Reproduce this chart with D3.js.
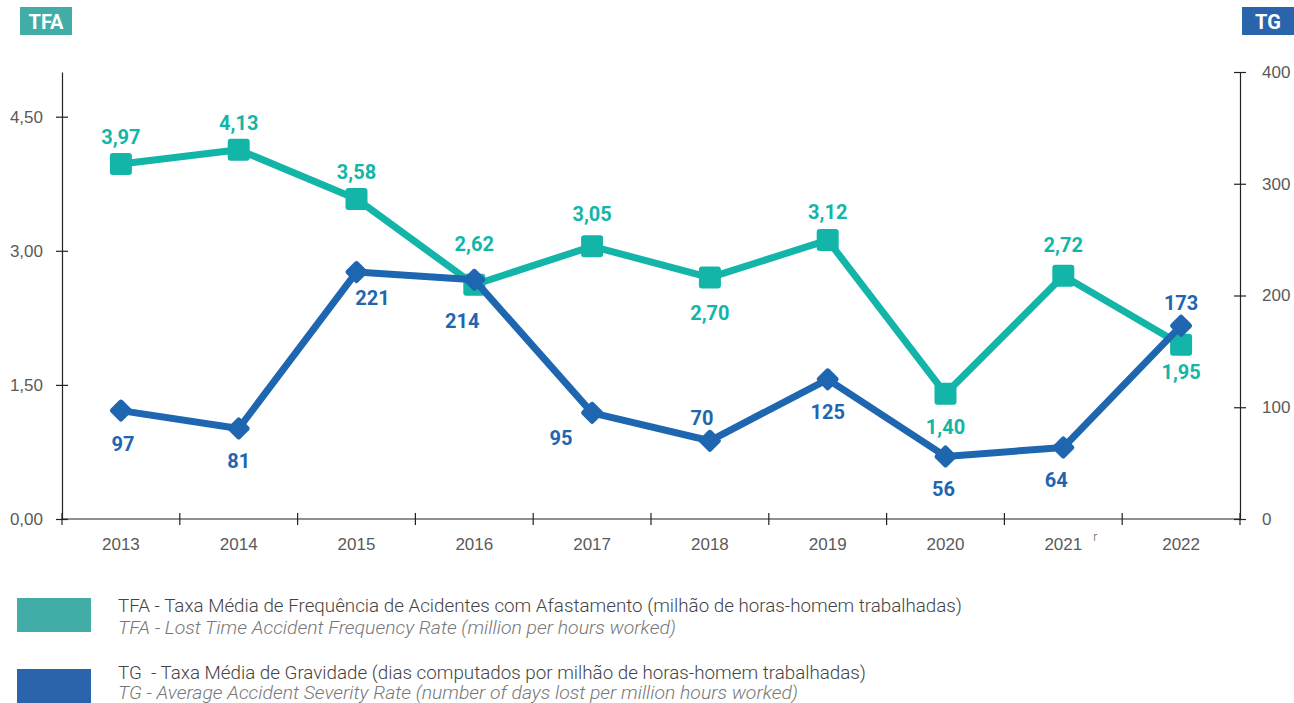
<!DOCTYPE html>
<html>
<head>
<meta charset="utf-8">
<script src="https://cdn.jsdelivr.net/npm/d3@7"></script>
<style>
  body { margin: 0; background: #fff; }
  svg { display: block; font-family: Roboto, "Noto Sans", sans-serif; }
</style>
</head>
<body>
<svg id="chart" width="1294" height="703"></svg>
<script>
// Accident indicators 2013–2022
const years = ["2013", "2014", "2015", "2016", "2017", "2018", "2019", "2020", "2021", "2022"];
const tfaValues = [3.97, 4.13, 3.58, 2.62, 3.05, 2.70, 3.12, 1.40, 2.72, 1.95];
const tgValues = [97, 81, 221, 214, 95, 70, 125, 56, 64, 173];
const leftTicks = [0, 1.5, 3.0, 4.5];
const rightTicks = [0, 100, 200, 300, 400];
// label placement: "a" above, "b" below
const tfaLabelPos = ["a", "a", "a", "a", "a", "b", "a", "b", "a", "b"];
const tgLabelPos = ["b", "b", "b", "b", "b", "a", "b", "b", "b", "a"];

const tfaColor = "#13b5a8";
const tgColor = "#1f66b1";
const tickText = "#5a5a5a";
const fmt = v => d3.format(".2f")(v).replace(".", ",");

const svg = d3.select("#chart");
const plotLeft = 62, plotRight = 1240, plotTop = 72, plotBottom = 519;

const x = d3.scaleBand().domain(years).range([plotLeft, plotRight]);
const yL = d3.scaleLinear().domain([0, 5]).range([plotBottom, plotTop]);
const yR = d3.scaleLinear().domain([0, 400]).range([plotBottom, plotTop]);
const cx = d => x(d) + x.bandwidth() / 2;

// Axes
const axisStyle = g => {
  g.selectAll("path").attr("stroke", "#222").attr("stroke-width", 1.2);
  g.selectAll("line").attr("stroke", "#222").attr("stroke-width", 1.2);
  g.selectAll("text").attr("fill", tickText).attr("font-size", 17).attr("font-weight", 300);
};

const xAxis = svg.append("g").attr("transform", `translate(0,${plotBottom})`)
  .call(d3.axisBottom(x).tickSize(0).tickPadding(19));
axisStyle(xAxis);
xAxis.select(".domain").attr("d", `M${plotLeft},0H${plotRight}`);
// boundary tick marks between years
xAxis.selectAll(".bnd").data(d3.range(years.length + 1)).join("line")
  .attr("class", "bnd")
  .attr("x1", i => plotLeft + i * x.bandwidth()).attr("x2", i => plotLeft + i * x.bandwidth())
  .attr("y1", -6).attr("y2", 6)
  .attr("stroke", "#222").attr("stroke-width", 1.2);

const yAxisL = svg.append("g").attr("transform", `translate(${plotLeft},0)`)
  .call(d3.axisLeft(yL).tickValues(leftTicks).tickFormat(fmt).tickSizeInner(6).tickSizeOuter(0).tickPadding(13));
axisStyle(yAxisL);
yAxisL.selectAll(".tick line").attr("x1", 6).attr("x2", -6);

const yAxisR = svg.append("g").attr("transform", `translate(${plotRight},0)`)
  .call(d3.axisRight(yR).tickValues(rightTicks).tickFormat(d3.format("d")).tickSizeInner(6).tickSizeOuter(0).tickPadding(16));
axisStyle(yAxisR);
yAxisR.selectAll(".tick line").attr("x1", -6).attr("x2", 6);

// superscript next to 2021
svg.append("text").attr("x", cx("2021") + 30).attr("y", 541)
  .attr("font-size", 12).attr("fill", tickText).attr("font-weight", 300).text("r");

// Lines
const tfaLine = d3.line().x((d, i) => cx(years[i])).y(d => yL(d));
const tgLine = d3.line().x((d, i) => cx(years[i])).y(d => yR(d));

svg.append("path").datum(tfaValues).attr("d", tfaLine)
  .attr("fill", "none").attr("stroke", tfaColor).attr("stroke-width", 7).attr("stroke-linejoin", "round");

// TFA square markers
svg.selectAll(".sq").data(tfaValues).join("rect")
  .attr("class", "sq")
  .attr("x", (d, i) => cx(years[i]) - 11).attr("y", d => yL(d) - 11)
  .attr("width", 22).attr("height", 22).attr("rx", 3)
  .attr("fill", tfaColor);

svg.append("path").datum(tgValues).attr("d", tgLine)
  .attr("fill", "none").attr("stroke", tgColor).attr("stroke-width", 7).attr("stroke-linejoin", "round");

// TG diamond markers
svg.selectAll(".dm").data(tgValues).join("rect")
  .attr("class", "dm")
  .attr("x", -8.5).attr("y", -8.5).attr("width", 17).attr("height", 17).attr("rx", 2.5)
  .attr("transform", (d, i) => `translate(${cx(years[i])},${yR(d)}) rotate(45)`)
  .attr("fill", tgColor);

// Value labels (small nudges keep them clear of the lines)
const tfaDy = [0, 0, 0, 14, 5, 0, 1, 2, 4, 8];
svg.selectAll(".tfaLbl").data(tfaValues).join("text")
  .attr("class", "tfaLbl")
  .attr("x", (d, i) => cx(years[i]))
  .attr("y", (d, i) => (tfaLabelPos[i] === "a" ? yL(d) - 20 : yL(d) + 42) - tfaDy[i])
  .attr("text-anchor", "middle").attr("font-size", 20).attr("font-weight", 700)
  .attr("fill", tfaColor).text(fmt);

const tgDx = [2, 0, 16, -12, -31, -8, 0, -2, -7, 0];
const tgDy = [0, 0, -7, 8, -8, 0, 0, 0, 0, 0];
svg.selectAll(".tgLbl").data(tgValues).join("text")
  .attr("class", "tgLbl")
  .attr("x", (d, i) => cx(years[i]) + tgDx[i])
  .attr("y", (d, i) => (tgLabelPos[i] === "a" ? yR(d) - 16 : yR(d) + 40) + tgDy[i])
  .attr("text-anchor", "middle").attr("font-size", 20).attr("font-weight", 700)
  .attr("fill", tgColor).text(d => d);

// Axis badges
const badge = (bx, label, color) => {
  svg.append("rect").attr("x", bx).attr("y", 7).attr("width", 52).attr("height", 28).attr("fill", color);
  svg.append("text").attr("x", bx + 26).attr("y", 29).attr("text-anchor", "middle")
    .attr("font-size", 20).attr("font-weight", 700).attr("fill", "#fff").text(label);
};
badge(20, "TFA", "#42ada6");
badge(1242, "TG", "#2a64ab");

// Legend
const legend = [
  { color: "#42ada6", y: 598, mainY: 612, subY: 634, mainW: 844, subW: 558,
    main: "TFA - Taxa Média de Frequência de Acidentes com Afastamento (milhão de horas-homem trabalhadas)",
    sub: "TFA - Lost Time Accident Frequency Rate (million per hours worked)" },
  { color: "#2a64ab", y: 669, mainY: 679, subY: 699, mainW: 748, subW: 680,
    main: "TG  - Taxa Média de Gravidade (dias computados por milhão de horas-homem trabalhadas)",
    sub: "TG - Average Accident Severity Rate (number of days lost per million hours worked)" }
];
const lg = svg.selectAll(".lg").data(legend).join("g").attr("class", "lg");
lg.append("rect").attr("x", 17).attr("y", d => d.y).attr("width", 74).attr("height", 34).attr("fill", d => d.color);
lg.append("text").attr("x", 118).attr("y", d => d.mainY).attr("font-size", 17.5).attr("font-weight", 300)
  .attr("fill", "#444").attr("xml:space", "preserve")
  .attr("textLength", d => d.mainW).attr("lengthAdjust", "spacingAndGlyphs").text(d => d.main);
lg.append("text").attr("x", 118).attr("y", d => d.subY).attr("font-size", 17.5).attr("font-weight", 300)
  .attr("font-style", "italic").attr("fill", "#777")
  .attr("textLength", d => d.subW).attr("lengthAdjust", "spacingAndGlyphs").text(d => d.sub);
</script>
</body>
</html>
